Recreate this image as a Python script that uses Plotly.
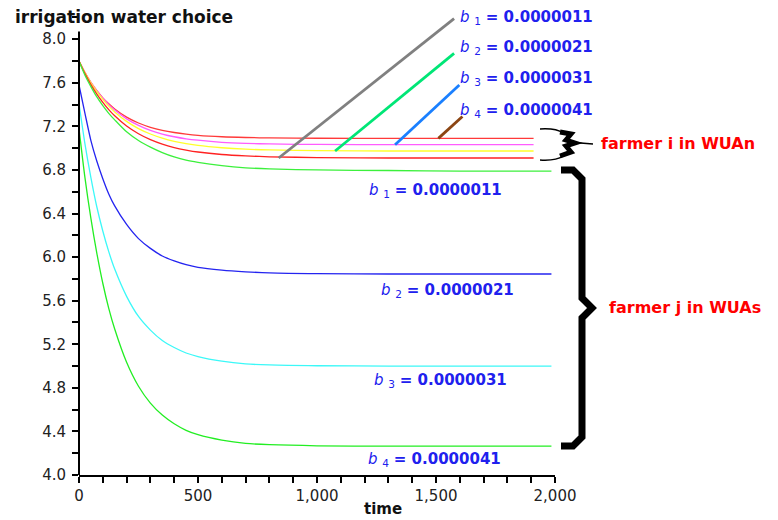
import plotly.graph_objects as go

# ---------------- data ----------------
t_i = [0, 25, 50, 75, 100, 125, 150, 200, 250, 300, 350, 400, 450, 500, 600, 700, 800, 1000, 1300, 1910]
farmer_i_red_top = [7.80, 7.694, 7.604, 7.527, 7.462, 7.407, 7.36, 7.285, 7.231, 7.192, 7.164, 7.144, 7.129, 7.118,
                    7.105, 7.098, 7.094, 7.091, 7.09, 7.09]
farmer_i_magenta = [7.80, 7.695, 7.604, 7.526, 7.458, 7.40, 7.35, 7.269, 7.209, 7.163, 7.13, 7.105, 7.086, 7.073,
                    7.054, 7.044, 7.039, 7.034, 7.032, 7.032]
farmer_i_yellow = [7.80, 7.693, 7.599, 7.518, 7.448, 7.386, 7.333, 7.246, 7.18, 7.13, 7.092, 7.063, 7.042, 7.025,
                   7.004, 6.991, 6.984, 6.977, 6.974, 6.974]
farmer_i_red_bottom = [7.80, 7.684, 7.584, 7.497, 7.421, 7.354, 7.297, 7.203, 7.132, 7.078, 7.037, 7.006, 6.983, 6.965,
                       6.942, 6.929, 6.921, 6.914, 6.91, 6.91]

t_j = [0, 25, 50, 75, 100, 125, 150, 200, 250, 300, 350, 400, 450, 500, 600, 700, 800, 1000, 1300, 1600, 1985]
farmer_j_b1 = [7.80, 7.67, 7.565, 7.47, 7.39, 7.32, 7.26, 7.15, 7.07, 7.01, 6.96, 6.92, 6.89, 6.87,
               6.84, 6.82, 6.81, 6.80, 6.795, 6.79, 6.79]
farmer_j_b2 = [7.58, 7.32, 7.07, 6.88, 6.72, 6.58, 6.47, 6.30, 6.17, 6.08, 6.01, 5.965, 5.93, 5.905,
               5.88, 5.865, 5.855, 5.848, 5.845, 5.845, 5.845]
farmer_j_b3 = [7.41, 7.04, 6.73, 6.46, 6.24, 6.05, 5.89, 5.64, 5.455, 5.33, 5.234, 5.17, 5.12, 5.087,
               5.045, 5.02, 5.01, 5.003, 5.0, 5.0, 5.0]
farmer_j_b4 = [7.18, 6.73, 6.355, 6.035, 5.76, 5.53, 5.34, 5.035, 4.815, 4.66, 4.55, 4.47, 4.41, 4.37,
               4.32, 4.29, 4.278, 4.268, 4.265, 4.265, 4.265]

# diagonal pointer lines (start on farmer i curves, end near labels)
diag_gray_t = [839, 1576]
diag_gray_v = [6.91, 8.19]
diag_green_t = [1076, 1576]
diag_green_v = [6.974, 7.87]
diag_blue_t = [1328, 1598]
diag_blue_v = [7.032, 7.58]
diag_brown_t = [1510, 1611]
diag_brown_v = [7.09, 7.29]

b_labels = ["0.0000011", "0.0000021", "0.0000031", "0.0000041"]

x_ticks = [0, 500, 1000, 1500, 2000]
y_ticks = [4.0, 4.4, 4.8, 5.2, 5.6, 6.0, 6.4, 6.8, 7.2, 7.6, 8.0]

# ---------------- figure ----------------
fig = go.Figure()

def add_line(x, y, color, width=1.3):
    fig.add_trace(go.Scatter(x=x, y=y, mode="lines", line=dict(color=color, width=width, shape="spline", smoothing=0.8),
                             showlegend=False, hoverinfo="skip"))

add_line(t_i, farmer_i_red_top, "#ff3a3a")
add_line(t_i, farmer_i_magenta, "#ff5cff")
add_line(t_i, farmer_i_yellow, "#ffff2a")
add_line(t_i, farmer_i_red_bottom, "#ff2222")
add_line(t_j, farmer_j_b1, "#3cf03c")
add_line(t_j, farmer_j_b2, "#2424f0")
add_line(t_j, farmer_j_b3, "#3cf8f8")
add_line(t_j, farmer_j_b4, "#22ee22")

def add_diag(x, y, color):
    fig.add_trace(go.Scatter(x=x, y=y, mode="lines", line=dict(color=color, width=2.8),
                             showlegend=False, hoverinfo="skip"))

add_diag(diag_gray_t, diag_gray_v, "#808080")
add_diag(diag_green_t, diag_green_v, "#00e676")
add_diag(diag_blue_t, diag_blue_v, "#1a80ff")
add_diag(diag_brown_t, diag_brown_v, "#8b4513")

# page body has an 8px margin; figure is sized so that it fits the 778x520 window
OFF = 8
W, H = 770, 512
L, T, R, B = 71, 4, 223, 45
PW, PH = W - L - R, H - T - B

def px2paper(px):
    return (px - OFF - L) / PW

def py2paper(py):
    return (H - B - (py - OFF)) / PH

def pt(px, py):
    return f"{px2paper(px):.5f},{py2paper(py):.5f}"

blue = "#2020ee"
label_font = dict(family="DejaVu Sans", size=15, color=blue)

# top labels
top_pos = [(1592, 8.195), (1592, 7.925), (1592, 7.64), (1592, 7.35)]
for k, ((tx, ty), lab) in enumerate(zip(top_pos, b_labels)):
    fig.add_annotation(x=tx, y=ty, xref="x", yref="y", xanchor="left", yanchor="middle", showarrow=False,
                       text=f"<i>b</i> <sub>{k+1}</sub> <b>= {lab}</b>", font=label_font)

# bottom labels
bot_pos = [(1210, 6.61), (1262, 5.69), (1229, 4.865), (1206, 4.14)]
for k, ((tx, ty), lab) in enumerate(zip(bot_pos, b_labels)):
    fig.add_annotation(x=tx, y=ty, xref="x", yref="y", xanchor="left", yanchor="middle", showarrow=False,
                       text=f"<i>b</i> <sub>{k+1}</sub> <b>= {lab}</b>", font=label_font)

red_font = dict(family="DejaVu Sans", size=16, color="#ff0000")
fig.add_annotation(x=px2paper(599), y=py2paper(143), xref="paper", yref="paper", xanchor="left", yanchor="middle",
                   showarrow=False, text="<b>farmer i in WUAn</b>", font=red_font)
fig.add_annotation(x=px2paper(607), y=py2paper(307), xref="paper", yref="paper", xanchor="left", yanchor="middle",
                   showarrow=False, text="<b>farmer j in WUAs</b>", font=red_font)

# axis titles
fig.add_annotation(x=px2paper(13), y=py2paper(17), xref="paper", yref="paper", xanchor="left", yanchor="middle",
                   showarrow=False, text="<b>irrigation water choice</b>",
                   font=dict(family="DejaVu Sans", size=17, color="#111111"))
fig.add_annotation(x=px2paper(383), y=py2paper(509), xref="paper", yref="paper", xanchor="center", yanchor="middle",
                   showarrow=False, text="<b>time</b>",
                   font=dict(family="DejaVu Sans", size=15, color="#111111"))

shapes = []
# y axis line (stops a little above 8.0)
shapes.append(dict(type="line", xref="paper", yref="y", x0=0, x1=0, y0=4.0, y1=8.07,
                   line=dict(color="black", width=2)))
# big brace for farmer j
big = ("M" + pt(561, 170) + " L" + pt(573, 170) + " L" + pt(582, 179) + " L" + pt(582, 298) +
       " L" + pt(592, 308) + " L" + pt(582, 318) + " L" + pt(582, 437) + " L" + pt(573, 446) +
       " L" + pt(561, 446))
shapes.append(dict(type="path", xref="paper", yref="paper", path=big, line=dict(color="black", width=7)))
# small brace for farmer i
thin = ("M" + pt(540, 129) + " Q" + pt(556, 128) + " " + pt(563, 133) +
        " M" + pt(540, 160) + " Q" + pt(556, 161) + " " + pt(563, 156) +
        " M" + pt(568, 142) + " L" + pt(593, 144))
shapes.append(dict(type="path", xref="paper", yref="paper", path=thin, line=dict(color="black", width=1.5)))
blob = ("M" + pt(560, 132) + " L" + pt(571, 134) + " L" + pt(566, 140) + " L" + pt(575, 143) +
        " L" + pt(566, 146) + " L" + pt(571, 152) + " L" + pt(560, 156))
shapes.append(dict(type="path", xref="paper", yref="paper", path=blob, line=dict(color="black", width=5)))

tick_font = dict(family="DejaVu Sans", size=15, color="#222222")

fig.update_layout(
    width=W, height=H,
    margin=dict(l=L, r=R, t=T, b=B, pad=0),
    paper_bgcolor="white", plot_bgcolor="white",
    shapes=shapes,
    xaxis=dict(range=[0, 2000], showgrid=False, zeroline=False, showline=True, linecolor="black", linewidth=2,
               ticks="outside", ticklen=6, tickwidth=1.5, tickcolor="black",
               tickvals=x_ticks, tickformat=",d", tickfont=tick_font,
               minor=dict(dtick=100, tick0=0, ticks="outside", ticklen=6, tickwidth=1.5, tickcolor="black")),
    yaxis=dict(range=[4.0, 8.25], showgrid=False, zeroline=False, showline=False,
               ticks="outside", ticklen=6, tickwidth=1.5, tickcolor="black", ticklabelstandoff=3,
               tickvals=y_ticks, tickformat=".1f", tickfont=tick_font,
               minor=dict(dtick=0.2, tick0=4.0, ticks="outside", ticklen=6, tickwidth=1.5, tickcolor="black")),
)

fig.write_html("out.html")
